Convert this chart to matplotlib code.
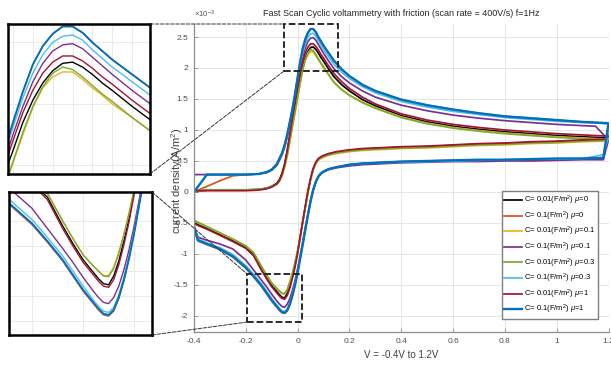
import matplotlib
matplotlib.use('Agg')
import matplotlib.pyplot as plt
from matplotlib.patches import Rectangle, ConnectionPatch
from matplotlib.ticker import FuncFormatter

plt.rcParams['font.family'] = ['Liberation Sans', 'DejaVu Sans']
plt.rcParams['axes.unicode_minus'] = False
plt.rcParams['mathtext.fontset'] = 'custom'
plt.rcParams['mathtext.rm'] = 'Liberation Sans'
plt.rcParams['mathtext.it'] = 'Liberation Sans:italic'

# voltage grids (V), forward sweep -0.4 -> 1.2 and reverse sweep 1.2 -> -0.4
v_fwd = [-0.4, -0.35, -0.3, -0.25, -0.2, -0.15, -0.12, -0.1, -0.08, -0.07,
         -0.06, -0.05, -0.04, -0.03, -0.02, -0.01, 0.0, 0.01, 0.02, 0.03,
         0.04, 0.05, 0.06, 0.07, 0.08, 0.09, 0.1, 0.12, 0.14, 0.17,
         0.2, 0.25, 0.3, 0.4, 0.5, 0.6, 0.7, 0.8, 0.9, 1.0,
         1.1, 1.15, 1.2]
v_rev = [1.2, 1.18, 1.1, 1.0, 0.9, 0.8, 0.7, 0.6, 0.5, 0.4,
         0.3, 0.25, 0.2, 0.15, 0.12, 0.1, 0.09, 0.08, 0.07, 0.06,
         0.05, 0.04, 0.03, 0.02, 0.01, 0.0, -0.01, -0.02, -0.03, -0.04,
         -0.05, -0.06, -0.07, -0.08, -0.1, -0.12, -0.14, -0.17, -0.2, -0.25,
         -0.3, -0.35, -0.385, -0.4]

# current density, x 1e-3 A/m^2
black_fwd = [0.0, 0.03, 0.03, 0.03, 0.03, 0.04, 0.06, 0.09, 0.14, 0.2,
             0.3, 0.45, 0.66, 0.9, 1.15, 1.4, 1.62, 1.85, 2.03, 2.17,
             2.27, 2.33, 2.34, 2.3, 2.24, 2.17, 2.11, 1.98, 1.86, 1.73,
             1.63, 1.49, 1.39, 1.23, 1.13, 1.06, 1.01, 0.97, 0.94, 0.91,
             0.89, 0.88, 0.87]
black_rev = [0.87, 0.84, 0.83, 0.81, 0.8, 0.78, 0.77, 0.75, 0.73, 0.72,
             0.7, 0.69, 0.67, 0.64, 0.61, 0.58, 0.56, 0.53, 0.47, 0.37,
             0.21, 0.01, -0.23, -0.47, -0.72, -0.97, -1.18, -1.36, -1.52, -1.64,
             -1.71, -1.7, -1.66, -1.61, -1.51, -1.38, -1.24, -1.01, -0.9, -0.79,
             -0.69, -0.59, -0.53, -0.5]

orange_fwd = [0.0, 0.09, 0.18, 0.26, 0.28, 0.29, 0.32, 0.36, 0.45, 0.54,
              0.63, 0.76, 0.93, 1.13, 1.34, 1.58, 1.85, 2.1, 2.32, 2.47,
              2.57, 2.63, 2.63, 2.58, 2.5, 2.43, 2.36, 2.24, 2.12, 1.98,
              1.87, 1.73, 1.63, 1.49, 1.4, 1.33, 1.27, 1.22, 1.19, 1.16,
              1.13, 1.12, 1.1]
orange_rev = [1.1, 0.53, 0.53, 0.53, 0.52, 0.52, 0.51, 0.51, 0.5, 0.49,
              0.47, 0.46, 0.44, 0.4, 0.37, 0.33, 0.3, 0.25, 0.16, 0.03,
              -0.15, -0.37, -0.6, -0.84, -1.07, -1.3, -1.5, -1.68, -1.82, -1.92,
              -1.96, -1.95, -1.91, -1.86, -1.76, -1.64, -1.52, -1.37, -1.23, -1.05,
              -0.93, -0.85, -0.79, -0.58]

yellow_fwd = [0.0, 0.03, 0.03, 0.03, 0.03, 0.04, 0.055, 0.08, 0.125, 0.17,
              0.26, 0.4, 0.58, 0.81, 1.05, 1.28, 1.52, 1.75, 1.97, 2.13,
              2.22, 2.26, 2.26, 2.2, 2.13, 2.07, 2.0, 1.89, 1.77, 1.65,
              1.56, 1.45, 1.36, 1.21, 1.11, 1.04, 0.99, 0.95, 0.92, 0.89,
              0.87, 0.86, 0.85]
yellow_rev = [0.85, 0.82, 0.81, 0.79, 0.78, 0.76, 0.75, 0.73, 0.71, 0.7,
              0.68, 0.67, 0.65, 0.62, 0.59, 0.56, 0.54, 0.51, 0.45, 0.35,
              0.19, -0.01, -0.25, -0.49, -0.73, -0.96, -1.14, -1.31, -1.45, -1.57,
              -1.635, -1.635, -1.6, -1.56, -1.47, -1.34, -1.2, -0.98, -0.87, -0.76,
              -0.66, -0.56, -0.49, -0.46]

purple_fwd = [0.28, 0.28, 0.28, 0.28, 0.28, 0.29, 0.31, 0.35, 0.43, 0.51,
              0.6, 0.72, 0.88, 1.07, 1.27, 1.5, 1.75, 1.98, 2.18, 2.33,
              2.43, 2.48, 2.49, 2.45, 2.38, 2.31, 2.24, 2.11, 1.99, 1.86,
              1.76, 1.63, 1.53, 1.4, 1.31, 1.24, 1.19, 1.15, 1.12, 1.09,
              1.07, 1.06, 0.84]
purple_rev = [0.84, 0.52, 0.52, 0.51, 0.5, 0.5, 0.49, 0.49, 0.48, 0.47,
              0.45, 0.44, 0.42, 0.39, 0.36, 0.32, 0.29, 0.24, 0.16, 0.04,
              -0.13, -0.35, -0.57, -0.8, -1.03, -1.24, -1.43, -1.59, -1.72, -1.81,
              -1.86, -1.85, -1.81, -1.76, -1.65, -1.53, -1.42, -1.26, -1.1, -0.92,
              -0.84, -0.78, -0.73, -0.55]

green_fwd = [0.0, 0.035, 0.035, 0.035, 0.035, 0.045, 0.06, 0.085, 0.13, 0.18,
             0.27, 0.41, 0.6, 0.83, 1.07, 1.3, 1.53, 1.77, 1.98, 2.14,
             2.25, 2.3, 2.28, 2.22, 2.15, 2.08, 2.02, 1.89, 1.77, 1.65,
             1.56, 1.44, 1.35, 1.2, 1.1, 1.03, 0.98, 0.94, 0.91, 0.88,
             0.86, 0.85, 0.84]
green_rev = [0.84, 0.83, 0.82, 0.8, 0.79, 0.77, 0.76, 0.74, 0.72, 0.71,
             0.69, 0.68, 0.66, 0.63, 0.6, 0.57, 0.55, 0.52, 0.46, 0.36,
             0.2, 0.0, -0.24, -0.48, -0.72, -0.95, -1.14, -1.31, -1.46, -1.58,
             -1.645, -1.64, -1.6, -1.56, -1.47, -1.34, -1.2, -0.98, -0.87, -0.76,
             -0.66, -0.56, -0.49, -0.46]

lightblue_fwd = [0.0, 0.28, 0.28, 0.28, 0.28, 0.29, 0.32, 0.36, 0.45, 0.53,
                 0.62, 0.75, 0.91, 1.1, 1.31, 1.55, 1.81, 2.05, 2.25, 2.4,
                 2.5, 2.55, 2.56, 2.52, 2.44, 2.37, 2.3, 2.18, 2.06, 1.93,
                 1.83, 1.7, 1.6, 1.46, 1.37, 1.3, 1.25, 1.2, 1.17, 1.14,
                 1.12, 1.11, 1.1]
lightblue_rev = [0.91, 0.6, 0.54, 0.53, 0.53, 0.52, 0.51, 0.5, 0.49, 0.48,
                 0.47, 0.46, 0.44, 0.4, 0.37, 0.33, 0.3, 0.25, 0.17, 0.04,
                 -0.14, -0.36, -0.59, -0.83, -1.06, -1.28, -1.48, -1.65, -1.79, -1.89,
                 -1.93, -1.92, -1.88, -1.83, -1.72, -1.6, -1.48, -1.33, -1.19, -1.01,
                 -0.9, -0.82, -0.76, -0.56]

red_fwd = [0.02, 0.02, 0.02, 0.02, 0.02, 0.03, 0.05, 0.08, 0.13, 0.19,
           0.29, 0.45, 0.67, 0.93, 1.2, 1.46, 1.7, 1.93, 2.11, 2.25,
           2.34, 2.39, 2.39, 2.35, 2.29, 2.22, 2.16, 2.03, 1.91, 1.78,
           1.67, 1.53, 1.42, 1.26, 1.16, 1.09, 1.04, 1.0, 0.97, 0.94,
           0.92, 0.91, 0.9]
red_rev = [0.9, 0.85, 0.84, 0.82, 0.81, 0.79, 0.78, 0.76, 0.74, 0.73,
           0.71, 0.7, 0.68, 0.65, 0.62, 0.59, 0.57, 0.54, 0.48, 0.38,
           0.22, 0.02, -0.22, -0.47, -0.73, -0.99, -1.21, -1.39, -1.55, -1.67,
           -1.73, -1.72, -1.68, -1.63, -1.53, -1.4, -1.26, -1.03, -0.91, -0.8,
           -0.7, -0.6, -0.54, -0.51]

blue_fwd = [0.0, 0.28, 0.28, 0.28, 0.28, 0.29, 0.32, 0.36, 0.45, 0.54,
            0.63, 0.76, 0.93, 1.13, 1.34, 1.58, 1.85, 2.1, 2.32, 2.47,
            2.57, 2.63, 2.63, 2.58, 2.5, 2.43, 2.36, 2.24, 2.12, 1.98,
            1.87, 1.73, 1.63, 1.49, 1.4, 1.33, 1.27, 1.22, 1.19, 1.16,
            1.13, 1.12, 1.11]
blue_rev = [1.11, 0.55, 0.54, 0.54, 0.53, 0.52, 0.52, 0.51, 0.5, 0.49,
            0.47, 0.46, 0.44, 0.4, 0.37, 0.33, 0.3, 0.25, 0.16, 0.03,
            -0.15, -0.37, -0.6, -0.84, -1.07, -1.3, -1.5, -1.67, -1.81, -1.91,
            -1.95, -1.94, -1.9, -1.85, -1.75, -1.63, -1.51, -1.36, -1.22, -1.04,
            -0.92, -0.84, -0.78, -0.57]

labels = [r'C= 0.01(F/m$^2$) $\mu$=0', r'C= 0.1(F/m$^2$) $\mu$=0',
          r'C= 0.01(F/m$^2$) $\mu$=0.1', r'C= 0.1(F/m$^2$) $\mu$=0.1',
          r'C= 0.01(F/m$^2$) $\mu$=0.3', r'C= 0.1(F/m$^2$) $\mu$=0.3',
          r'C= 0.01(F/m$^2$) $\mu$=1', r'C= 0.1(F/m$^2$) $\mu$=1']
colors = ['#000000', '#D95319', '#EDB120', '#7E2F8E',
          '#77AC30', '#4DBEEE', '#A2142F', '#0072BD']
fwd = [black_fwd, orange_fwd, yellow_fwd, purple_fwd,
       green_fwd, lightblue_fwd, red_fwd, blue_fwd]
rev = [black_rev, orange_rev, yellow_rev, purple_rev,
       green_rev, lightblue_rev, red_rev, blue_rev]

fig = plt.figure(figsize=(6.11, 3.68), dpi=100)
ax = fig.add_axes([194/611, 36/368, 414.5/611, 308/368])
ax_top = fig.add_axes([8/611, 194/368, 142/611, 150/368])
ax_bot = fig.add_axes([9/611, 33/368, 143/611, 143/368])


def draw(a, lw):
    lines = []
    for lab, c, f, r in zip(labels, colors, fwd, rev):
        x = v_fwd + v_rev + [v_fwd[0]]
        y = f + r + [f[0]]
        w = lw * 1.35 if c == '#0072BD' else lw
        ln, = a.plot(x, y, color=c, lw=w, label=lab)
        lines.append(ln)
    return lines


lines = draw(ax, 1.25)
draw(ax_top, 1.0)
draw(ax_bot, 1.0)

ax.set_xlim(-0.4, 1.2)
ax.set_ylim(-2.26, 2.71)
ax.set_xticks([-0.4, -0.2, 0, 0.2, 0.4, 0.6, 0.8, 1, 1.2])
ax.set_yticks([-2, -1.5, -1, -0.5, 0, 0.5, 1, 1.5, 2, 2.5])
fmt = FuncFormatter(lambda v, p: '%g' % v)
ax.xaxis.set_major_formatter(fmt)
ax.yaxis.set_major_formatter(fmt)
ax.grid(True, color='#e2e2e2', lw=0.6)
ax.set_axisbelow(True)
for s in ['top', 'right']:
    ax.spines[s].set_visible(False)
for s in ['left', 'bottom']:
    ax.spines[s].set_color('#8c8c8c')
    ax.spines[s].set_linewidth(0.9)
ax.tick_params(direction='in', length=3, width=0.6, colors='#8c8c8c',
               labelcolor='#4d4d4d', labelsize=6, pad=4)

ax.set_title('Fast Scan Cyclic voltammetry with friction (scan rate = 400V/s) f=1Hz',
             fontsize=6.5, pad=6, color='#262626')
ax.set_xlabel('V = -0.4V to 1.2V', fontsize=7, color='#404040', labelpad=4)
ax.set_ylabel('current density(A/m$^2$)', fontsize=8, color='#404040')
ax.yaxis.set_label_coords(-0.022, 0.49)
ax.text(0.0, 1.012, r'$\times10^{-3}$', transform=ax.transAxes, fontsize=5.5,
        ha='left', va='bottom', color='#4d4d4d')

ax.legend(handles=lines, loc='lower right', bbox_to_anchor=(0.975, 0.042),
          fontsize=5.5, frameon=True, fancybox=False, edgecolor='#7f7f7f',
          framealpha=1, borderaxespad=0, handlelength=2.3, handletextpad=0.3,
          labelspacing=0.3, borderpad=0.35)

# zoomed insets
ax_top.set_xlim(-0.005, 0.138)
ax_top.set_ylim(1.43, 2.65)
ax_top.set_xticks([0.0, 0.02, 0.04, 0.06, 0.08, 0.1, 0.12])
ax_top.set_yticks([1.5, 2.0, 2.5])
ax_bot.set_xlim(-0.245, 0.035)
ax_bot.set_ylim(-2.11, -0.97)
ax_bot.set_xticks([-0.2, -0.1, 0.0])
ax_bot.set_yticks([-2.0, -1.8, -1.6, -1.4, -1.2])
for a in [ax_top, ax_bot]:
    a.grid(True, color='#e6e6e6', lw=0.6)
    a.set_axisbelow(True)
    a.tick_params(length=0, labelbottom=False, labelleft=False)
    for s in a.spines.values():
        s.set_color('black')
        s.set_linewidth(1.8)

# dashed zoom boxes on the main axes
top_box = (-0.053, 1.95, 0.156, 2.71)
bot_box = (-0.196, -2.1, 0.017, -1.32)
for x0, y0, x1, y1 in [top_box, bot_box]:
    ax.add_patch(Rectangle((x0, y0), x1 - x0, y1 - y0, fill=False, ls='--',
                           lw=1.3, ec='#1a1a1a', clip_on=False, zorder=5))

for inset, (x0, y0, x1, y1) in [(ax_top, top_box), (ax_bot, bot_box)]:
    for ya, yb in [(1, y1), (0, y0)]:
        con = ConnectionPatch(xyA=(1, ya), coordsA=inset.transAxes,
                              xyB=(x0, yb), coordsB=ax.transData,
                              ls='--', lw=0.7, color='#333333')
        fig.add_artist(con)

fig.savefig('out.png', dpi=100)
